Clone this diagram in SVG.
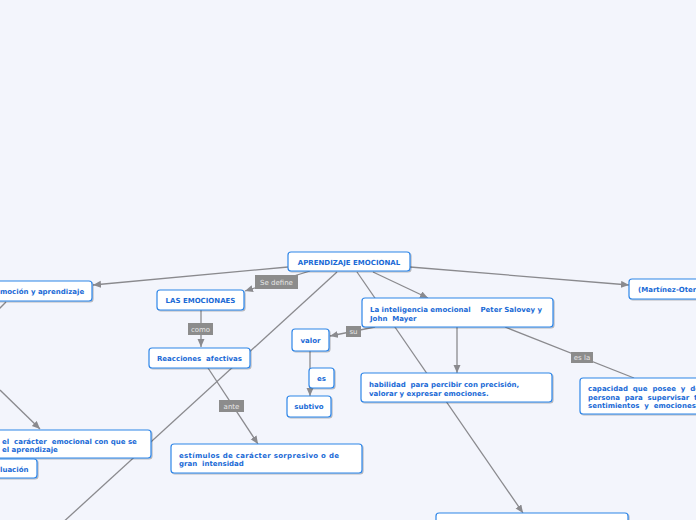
<svg xmlns="http://www.w3.org/2000/svg" width="696" height="520" viewBox="0 0 696 520">
<style>
.n{fill:#ffffff;stroke:#2f86e8;stroke-width:1.2}
.t{font-family:"DejaVu Sans",Verdana,sans-serif;font-weight:bold;font-size:7px;fill:#1a6ad6;white-space:pre}
.c{text-anchor:middle}
.c1{stroke:#8a8a8e;stroke-width:1.3;fill:none}
.lb{fill:#8c8c8c}
.lt{font-family:"DejaVu Sans",Verdana,sans-serif;font-size:7px;fill:#e6e6e6;text-anchor:middle}
</style>
<defs>
<marker id="ar" markerWidth="9" markerHeight="8" refX="8" refY="3.5" orient="auto" markerUnits="userSpaceOnUse">
<path d="M0,0 L8,3.5 L0,7 z" fill="#8a8a8e"/>
</marker>
<filter id="sh" x="-10%" y="-20%" width="120%" height="150%">
<feDropShadow dx="1" dy="1" stdDeviation="0.7" flood-color="#000" flood-opacity="0.25"/>
</filter>
</defs>
<rect width="696" height="520" fill="#f3f5fc"/>
<g id="connectors">
<path class="c1" d="M288,267 L93,285" marker-end="url(#ar)"/>
<path class="c1" d="M310,271 L245,291" marker-end="url(#ar)"/>
<path class="c1" d="M201,310 L201,347" marker-end="url(#ar)"/>
<path class="c1" d="M337,272 L60,525"/>
<path class="c1" d="M373,272 L428,298" marker-end="url(#ar)"/>
<path class="c1" d="M357,272 L523,513" marker-end="url(#ar)"/>
<path class="c1" d="M410,267 L629,285" marker-end="url(#ar)"/>
<path class="c1" d="M375,327 L330,336" marker-end="url(#ar)"/>
<path class="c1" d="M310,351 L310,396" marker-end="url(#ar)"/>
<path class="c1" d="M457,327 L457,373" marker-end="url(#ar)"/>
<path class="c1" d="M505,327 L634,378"/>
<path class="c1" d="M208,368 L258,444" marker-end="url(#ar)"/>
<path class="c1" d="M0,390 L40,429" marker-end="url(#ar)"/>
<path class="c1" d="M6,302 L-2,310"/>
</g>
<g id="lbl-sedefine"><rect class="lb" x="255" y="275" width="43" height="14"/><text class="lt" x="276.5" y="285">Se define</text></g>
<g id="lbl-como"><rect class="lb" x="188" y="323" width="25" height="12"/><text class="lt" x="200.5" y="332">como</text></g>
<g id="lbl-su"><rect class="lb" x="346" y="326" width="15" height="11"/><text class="lt" x="353.5" y="334">su</text></g>
<g id="lbl-ante"><rect class="lb" x="219" y="400" width="25" height="12"/><text class="lt" x="231.5" y="409">ante</text></g>
<g id="lbl-esla"><rect class="lb" x="571" y="352" width="22" height="11"/><text class="lt" x="582" y="360">es la</text></g>
<g id="n-root"><rect class="n" filter="url(#sh)" x="288" y="252" width="122" height="19" rx="3"/><text class="t c" x="349" y="265">APRENDIZAJE EMOCIONAL</text></g>
<g id="n-emocion"><rect class="n" filter="url(#sh)" x="-20" y="281" width="112" height="20" rx="3"/><text class="t" x="0" y="294">moción y aprendizaje</text></g>
<g id="n-emociones"><rect class="n" filter="url(#sh)" x="157" y="290" width="87" height="20" rx="3"/><text class="t c" x="200.5" y="303">LAS EMOCIONAES</text></g>
<g id="n-reacciones"><rect class="n" filter="url(#sh)" x="149" y="348" width="101" height="20" rx="3"/><text class="t c" x="199.5" y="361">Reacciones  afectivas</text></g>
<g id="n-valor"><rect class="n" filter="url(#sh)" x="292" y="329" width="37" height="22" rx="3"/><text class="t c" x="310.5" y="343">valor</text></g>
<g id="n-es"><rect class="n" filter="url(#sh)" x="309" y="368" width="25" height="20" rx="3"/><text class="t c" x="321.5" y="381">es</text></g>
<g id="n-subtivo"><rect class="n" filter="url(#sh)" x="287" y="396" width="44" height="21" rx="3"/><text class="t c" x="309" y="409">subtivo</text></g>
<g id="n-inteligencia"><rect class="n" filter="url(#sh)" x="362" y="298" width="191" height="29" rx="3"/><text class="t" x="370" y="312">La inteligencia emocional    Peter Salovey y</text><text class="t" x="370" y="320.5">John  Mayer</text></g>
<g id="n-habilidad"><rect class="n" filter="url(#sh)" x="361" y="373" width="191" height="29" rx="3"/><text class="t" x="369" y="387">habilidad  para percibir con precisión,</text><text class="t" x="369" y="395.5">valorar y expresar emociones.</text></g>
<g id="n-capacidad"><rect class="n" filter="url(#sh)" x="580" y="378" width="140" height="36" rx="3"/><text class="t" x="588" y="391">capacidad  que  posee  y  de</text><text class="t" x="588" y="399.5">persona  para  supervisar  t</text><text class="t" x="588" y="408">sentimientos  y  emociones.</text></g>
<g id="n-martinez"><rect class="n" filter="url(#sh)" x="629" y="279" width="100" height="20" rx="3"/><text class="t" x="638" y="292">(Martínez-Oter</text></g>
<g id="n-estimulos"><rect class="n" filter="url(#sh)" x="171" y="444" width="191" height="29" rx="3"/><text class="t" x="179" y="457.5" textLength="160" lengthAdjust="spacing">estímulos de carácter sorpresivo o de</text><text class="t" x="179" y="466">gran  intensidad</text></g>
<g id="n-caracter"><rect class="n" filter="url(#sh)" x="-50" y="430" width="201" height="28" rx="3"/><text class="t" x="2" y="443.5">el  carácter  emocional con que se</text><text class="t" x="2" y="452">el aprendizaje</text></g>
<g id="n-evaluacion"><rect class="n" filter="url(#sh)" x="-30" y="459" width="67" height="19" rx="3"/><text class="t" x="0" y="471.5">luación</text></g>
<g id="n-bottom"><rect class="n" filter="url(#sh)" x="436" y="513" width="192" height="20" rx="3"/></g>
</svg>
